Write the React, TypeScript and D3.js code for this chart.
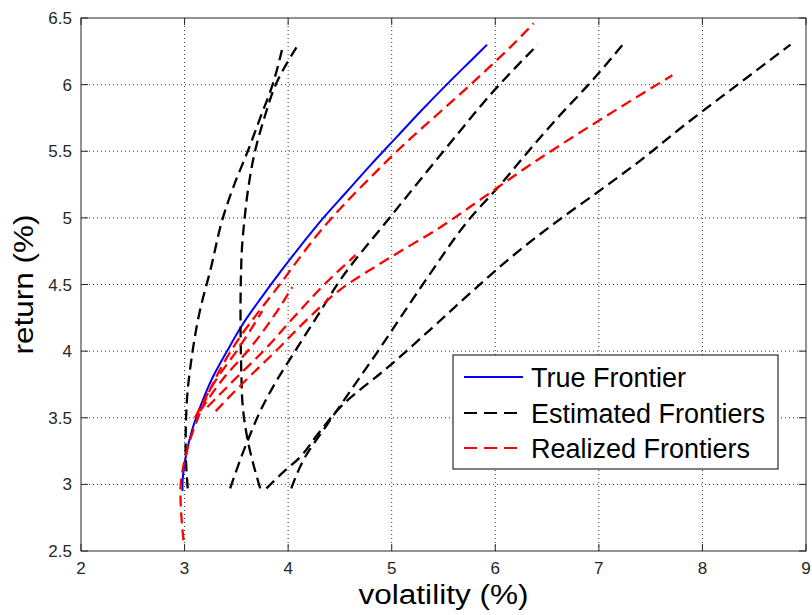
import React from "react";
import * as d3 from "d3";

// ---- data (volatility %, return %) ----
const xTicks = [2, 3, 4, 5, 6, 7, 8, 9];
const yTicks = [2.5, 3, 3.5, 4, 4.5, 5, 5.5, 6, 6.5];

const trueRet = [2.95, 3.0, 3.2, 3.4, 3.6, 3.8, 4.0, 4.2, 4.4, 4.6, 4.8, 5.0, 5.2, 5.4, 5.6, 5.8, 6.0, 6.2, 6.3];
const trueVol = [2.98, 2.98, 3.01, 3.07, 3.16, 3.27, 3.41, 3.56, 3.74, 3.93, 4.13, 4.34, 4.57, 4.8, 5.04, 5.28, 5.53, 5.79, 5.92];

const est1: [number, number][] = [[3.03, 2.97], [3.01, 3.3], [3.02, 3.6], [3.07, 3.96], [3.15, 4.31], [3.25, 4.61], [3.37, 5.0], [3.48, 5.25], [3.61, 5.5], [3.73, 5.75], [3.85, 6.0], [3.94, 6.26]];
const est2: [number, number][] = [[3.73, 2.97], [3.61, 3.33], [3.56, 3.6], [3.55, 3.78], [3.54, 4.3], [3.55, 4.71], [3.58, 5.0], [3.62, 5.25], [3.68, 5.5], [3.77, 5.75], [3.88, 6.0], [4.08, 6.28]];
const est3: [number, number][] = [[3.44, 2.97], [3.61, 3.33], [3.75, 3.58], [3.89, 3.78], [4.05, 3.98], [4.28, 4.26], [4.5, 4.53], [5.0, 5.02], [5.5, 5.5], [6.04, 6.0], [6.41, 6.3]];
const est4: [number, number][] = [[4.03, 2.97], [4.16, 3.2], [4.36, 3.43], [4.6, 3.7], [4.85, 3.98], [5.1, 4.27], [5.37, 4.58], [5.76, 5.0], [6.05, 5.25], [6.32, 5.5], [6.6, 5.75], [6.9, 6.0], [7.23, 6.3]];
const est5: [number, number][] = [[3.79, 2.97], [3.95, 3.09], [4.11, 3.2], [4.28, 3.37], [4.53, 3.6], [4.95, 3.87], [5.37, 4.16], [5.75, 4.43], [6.24, 4.76], [6.59, 4.97], [7.0, 5.2], [7.4, 5.43], [7.8, 5.68], [8.34, 6.0], [8.85, 6.3]];

const real1: [number, number][] = [[2.99, 2.58], [2.97, 2.75], [2.96, 2.95], [2.98, 3.1], [3.04, 3.3], [3.13, 3.5], [3.24, 3.7], [3.37, 3.9], [3.53, 4.1], [3.72, 4.3], [3.92, 4.5], [4.11, 4.7], [4.31, 4.9], [4.54, 5.1], [4.79, 5.3], [5.05, 5.5], [5.33, 5.7], [5.62, 5.9], [5.9, 6.1], [6.17, 6.3], [6.37, 6.46]];
const real2: [number, number][] = [[3.3, 3.55], [3.55, 3.75], [3.88, 4.0], [4.2, 4.25], [4.5, 4.46], [4.98, 4.7], [5.47, 4.93], [5.88, 5.15], [6.36, 5.41], [7.0, 5.73], [7.71, 6.07]];
const real3: [number, number][] = [[3.22, 3.58], [3.5, 3.8], [3.76, 4.0], [4.05, 4.25], [4.35, 4.5], [4.65, 4.72]];
const real4: [number, number][] = [[3.15, 3.55], [3.38, 3.8], [3.63, 4.02], [3.85, 4.25], [4.04, 4.48]];
const real5: [number, number][] = [[3.1, 3.5], [3.3, 3.78], [3.52, 4.02], [3.75, 4.3]];

const estimated = [est1, est2, est3, est4, est5];
const realized = [real1, real2, real3, real4, real5];

const legendLabels = ["True Frontier", "Estimated Frontiers", "Realized Frontiers"];

const W = 812;
const H = 615;
const left = 81, right = 806, top = 18, bottom = 551;

export default function App() {
  const x = d3.scaleLinear().domain([2, 9]).range([left, right]);
  const y = d3.scaleLinear().domain([2.5, 6.5]).range([bottom, top]);
  const line = d3
    .line<[number, number]>()
    .x((d) => x(d[0]))
    .y((d) => y(d[1]))
    .curve(d3.curveMonotoneY);

  const truePts: [number, number][] = trueVol.map((v, i) => [v, trueRet[i]]);
  const font = "'Liberation Sans', Arial, sans-serif";
  const tickLen = 7;
  const dash = "11,6";

  const legendX = 453, legendY = 355, legendW = 325, legendH = 114;
  const legendRows = [377, 413, 448];
  const legendStyles = [
    { stroke: "#0000ff", dash: undefined },
    { stroke: "#000000", dash: "13,7" },
    { stroke: "#ff0000", dash: "13,7" },
  ];

  return (
    <svg width={W} height={H} style={{ position: "absolute", left: 0, top: 0, background: "#fff" }}>
      <rect x={0} y={0} width={W} height={H} fill="#fff" />
      {/* grid */}
      <g stroke="#333" strokeWidth={1} strokeDasharray="1,3">
        {xTicks.filter((t) => t > 2 && t < 9).map((t) => (
          <line key={"gx" + t} x1={x(t)} x2={x(t)} y1={top} y2={bottom} />
        ))}
        {yTicks.filter((t) => t > 2.5 && t < 6.5).map((t) => (
          <line key={"gy" + t} x1={left} x2={right} y1={y(t)} y2={y(t)} />
        ))}
      </g>
      {/* curves */}
      <path d={line(truePts) || ""} fill="none" stroke="#0000ff" strokeWidth={2} />
      {estimated.map((pts, i) => (
        <path key={"e" + i} d={line(pts) || ""} fill="none" stroke="#000" strokeWidth={2.3} strokeDasharray={dash} />
      ))}
      {realized.map((pts, i) => (
        <path key={"r" + i} d={line(pts) || ""} fill="none" stroke="#ff0000" strokeWidth={2.3} strokeDasharray={dash} />
      ))}
      {/* axes box & ticks */}
      <rect x={left} y={top} width={right - left} height={bottom - top} fill="none" stroke="#262626" strokeWidth={1} />
      <g stroke="#262626" strokeWidth={1}>
        {xTicks.map((t) => (
          <g key={"tx" + t}>
            <line x1={x(t)} x2={x(t)} y1={bottom} y2={bottom - tickLen} />
            <line x1={x(t)} x2={x(t)} y1={top} y2={top + tickLen} />
          </g>
        ))}
        {yTicks.map((t) => (
          <g key={"ty" + t}>
            <line x1={left} x2={left + tickLen} y1={y(t)} y2={y(t)} />
            <line x1={right} x2={right - tickLen} y1={y(t)} y2={y(t)} />
          </g>
        ))}
      </g>
      <g fontFamily={font} fontSize={17} fill="#262626">
        {xTicks.map((t) => (
          <text key={"lx" + t} x={x(t)} y={574} textAnchor="middle">
            {t}
          </text>
        ))}
        {yTicks.map((t) => (
          <text key={"ly" + t} x={left - 9} y={y(t) + 6} textAnchor="end">
            {t}
          </text>
        ))}
      </g>
      {/* axis labels */}
      <text x={(left + right) / 2} y={604} textAnchor="middle" fontFamily={font} fontSize={27} fill="#000" textLength={170} lengthAdjust="spacingAndGlyphs">
        volatility (%)
      </text>
      <text
        transform={`translate(33, ${(top + bottom) / 2}) rotate(-90)`}
        textAnchor="middle"
        fontFamily={font}
        fontSize={27}
        fill="#000"
        textLength={140}
        lengthAdjust="spacingAndGlyphs"
      >
        return (%)
      </text>
      {/* legend */}
      <rect x={legendX} y={legendY} width={legendW} height={legendH} fill="#fff" stroke="#000" strokeWidth={1} />
      {legendLabels.map((lab, i) => (
        <g key={"lg" + i}>
          <line
            x1={464}
            x2={523}
            y1={legendRows[i]}
            y2={legendRows[i]}
            stroke={legendStyles[i].stroke}
            strokeWidth={2}
            strokeDasharray={legendStyles[i].dash}
          />
          <text x={531} y={legendRows[i] + 10} fontFamily={font} fontSize={27} fill="#000">
            {lab}
          </text>
        </g>
      ))}
    </svg>
  );
}
